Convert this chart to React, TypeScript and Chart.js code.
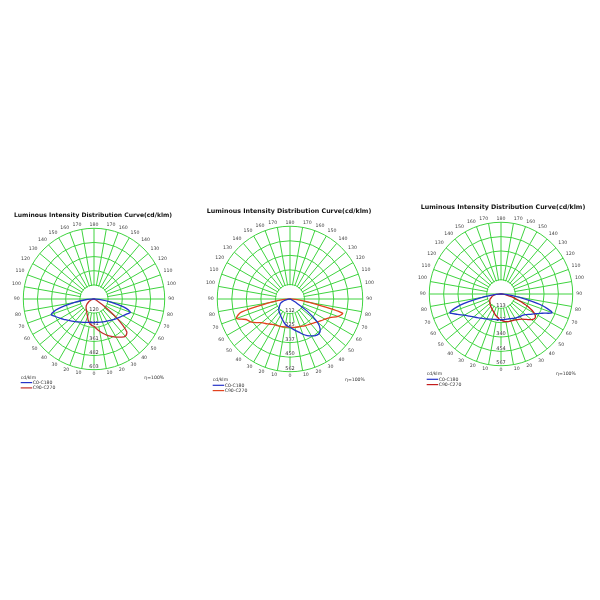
import React, { useEffect, useRef } from 'react';
import { Chart, registerables } from 'chart.js';

Chart.register(...registerables);

// ---------- data ----------
const TITLE = 'Luminous Intensity Distribution Curve(cd/klm)';
const UNIT = 'cd/klm';
const EFFICIENCY = 'η=100%';
const SERIES_NAMES = ['C0-C180', 'C90-C270'];

// angle labels clockwise from the top of the diagram (10° steps)
const ANGLE_LABELS = ['180', '170', '160', '150', '140', '130', '120', '110', '100', '90', '80', '70', '60', '50', '40', '30', '20', '10',
  '0', '10', '20', '30', '40', '50', '60', '70', '80', '90', '100', '110', '120', '130', '140', '150', '160', '170'];

// gamma angles of the sampled intensities (degrees)
const GAMMA = [0, 5, 10, 15, 20, 25, 30, 35, 40, 45, 50, 55, 60, 65, 70, 75, 80, 85, 90,
  95, 100, 105, 110, 115, 120, 125, 130, 135, 140, 145, 150, 155, 160, 165, 170, 175, 180];

// chart 1
const CH1_RINGS = [0, 120.6, 241.2, 361.8, 482.4, 603];
const CH1_RING_LABELS = ['120', '241', '361', '482', '603'];
const CH1_C0 = [200, 200, 202, 205, 208, 212, 217, 225, 234, 245, 257, 270, 286, 305, 330, 260, 140, 55, 5, 0, 0, 0, 0, 0, 0, 0, 0, 0, 0, 0, 0, 0, 0, 0, 0, 0, 0];
const CH1_C180 = [200, 201, 203, 207, 212, 219, 228, 239, 252, 267, 285, 305, 330, 358, 388, 310, 168, 72, 8, 0, 0, 0, 0, 0, 0, 0, 0, 0, 0, 0, 0, 0, 0, 0, 0, 0, 0];
const CH1_C90 = [232, 255, 280, 305, 330, 352, 375, 397, 415, 395, 260, 110, 30, 10, 5, 3, 2, 1, 0, 0, 0, 0, 0, 0, 0, 0, 0, 0, 0, 0, 0, 0, 0, 0, 0, 0, 0];
const CH1_C270 = [232, 226, 212, 190, 160, 140, 125, 113, 105, 95, 84, 70, 55, 42, 31, 22, 13, 6, 0, 0, 0, 0, 0, 0, 0, 0, 0, 0, 0, 0, 0, 0, 0, 0, 0, 0, 0];

// chart 2
const CH2_RINGS = [0, 112.5, 225, 337.5, 450, 562.5];
const CH2_RING_LABELS = ['112', '225', '337', '450', '562'];
const CH2_C0 = [218, 232, 248, 265, 290, 312, 330, 345, 350, 330, 275, 160, 40, 12, 5, 2, 1, 0, 0, 0, 0, 0, 0, 0, 0, 0, 0, 0, 0, 0, 0, 0, 0, 0, 0, 0, 0];
const CH2_C180 = [218, 212, 200, 185, 170, 158, 146, 137, 130, 123, 112, 100, 90, 82, 65, 45, 25, 10, 0, 0, 0, 0, 0, 0, 0, 0, 0, 0, 0, 0, 0, 0, 0, 0, 0, 0, 0];
const CH2_C90 = [218, 220, 222, 224, 227, 232, 237, 243, 250, 262, 276, 293, 312, 340, 395, 420, 160, 55, 5, 0, 0, 0, 0, 0, 0, 0, 0, 0, 0, 0, 0, 0, 0, 0, 0, 0, 0];
const CH2_C270 = [218, 218, 219, 222, 225, 228, 232, 240, 252, 268, 285, 318, 352, 375, 440, 390, 160, 55, 5, 0, 0, 0, 0, 0, 0, 0, 0, 0, 0, 0, 0, 0, 0, 0, 0, 0, 0];

// chart 3
const CH3_RINGS = [0, 113.5, 227, 340.5, 454, 567.5];
const CH3_RING_LABELS = ['113', '227', '340', '454', '567'];
const CH3_C0 = [202, 203, 204, 205, 208, 214, 220, 226, 233, 240, 255, 280, 312, 360, 430, 320, 150, 50, 5, 0, 0, 0, 0, 0, 0, 0, 0, 0, 0, 0, 0, 0, 0, 0, 0, 0, 0];
const CH3_C180 = [202, 203, 205, 208, 212, 220, 228, 238, 250, 265, 282, 305, 335, 380, 430, 330, 150, 50, 5, 0, 0, 0, 0, 0, 0, 0, 0, 0, 0, 0, 0, 0, 0, 0, 0, 0, 0];
const CH3_C90 = [205, 215, 222, 226, 228, 230, 236, 245, 260, 285, 315, 330, 305, 235, 150, 90, 40, 15, 3, 0, 0, 0, 0, 0, 0, 0, 0, 0, 0, 0, 0, 0, 0, 0, 0, 0, 0];
const CH3_C270 = [205, 196, 182, 172, 158, 148, 140, 133, 127, 121, 114, 108, 102, 95, 82, 72, 60, 38, 5, 0, 0, 0, 0, 0, 0, 0, 0, 0, 0, 0, 0, 0, 0, 0, 0, 0, 0];

// ---------- styles / layout ----------
const GREEN = '#3fd33f';
const FONT = '"DejaVu Sans", Verdana, sans-serif';

type Cfg = {
  x: number; y: number; w: number; h: number;
  pad: { left: number; top: number; right: number; bottom: number };
  rings: number[]; ringLabels: string[];
  right: [number[], number[]]; left: [number[], number[]];
  colors: [string, string];
  titleX: number; titleY: number; titleSize: number;
  legX: number; legY: number; etaX: number;
};

const CHARTS: Cfg[] = [
  {
    x: 0, y: 200, w: 195, h: 200, pad: { left: 12, top: 17, right: 19, bottom: 19 },
    rings: CH1_RINGS, ringLabels: CH1_RING_LABELS,
    right: [CH1_C0, CH1_C90], left: [CH1_C180, CH1_C270],
    colors: ['#2433c8', '#c0302c'],
    titleX: 93, titleY: 15.7, titleSize: 6.05, legX: 20.7, legY: 177.3, etaX: 144.3,
  },
  {
    x: 195, y: 200, w: 200, h: 200, pad: { left: 12, top: 15, right: 20, bottom: 17 },
    rings: CH2_RINGS, ringLabels: CH2_RING_LABELS,
    right: [CH2_C0, CH2_C90], left: [CH2_C180, CH2_C270],
    colors: ['#2433c8', '#e2421e'],
    titleX: 94, titleY: 11, titleSize: 6.3, legX: 17.7, legY: 180, etaX: 150,
  },
  {
    x: 400, y: 195, w: 200, h: 200, pad: { left: 19, top: 16, right: 15, bottom: 18 },
    rings: CH3_RINGS, ringLabels: CH3_RING_LABELS,
    right: [CH3_C0, CH3_C90], left: [CH3_C180, CH3_C270],
    colors: ['#2433c8', '#c41c1c'],
    titleX: 103, titleY: 12.7, titleSize: 6.3, legX: 26.7, legY: 179, etaX: 156,
  },
];

// radar labels at 5° steps (odd ones blank)
const RADAR_LABELS = ANGLE_LABELS.flatMap((l) => [l, '']);

// index j clockwise from top: 0..36 right half (gamma 180 -> 0), 37..71 left half (gamma 5 -> 175)
function buildLoop(right: number[], left: number[]) {
  const out: number[] = [];
  for (let j = 0; j < RADAR_LABELS.length; j++) {
    out.push(j <= 36 ? right[GAMMA.length - 1 - j] : left[j - 36]);
  }
  return out;
}

function makePlugin(cfg: Cfg) {
  return {
    id: 'decor',
    beforeDatasetsDraw(chart: any) {
      const s = chart.scales.r;
      const ctx = chart.ctx as CanvasRenderingContext2D;
      const r1 = s.getDistanceFromCenterForValue(cfg.rings[1]);
      ctx.save();
      ctx.fillStyle = '#ffffff';
      ctx.beginPath();
      ctx.arc(s.xCenter, s.yCenter, r1 - 0.8, 0, Math.PI * 2);
      ctx.fill();
      ctx.strokeStyle = GREEN;
      ctx.lineWidth = 1;
      ctx.beginPath();
      ctx.moveTo(s.xCenter - r1, s.yCenter);
      ctx.lineTo(s.xCenter + r1, s.yCenter);
      ctx.stroke();
      ctx.font = `5px ${FONT}`;
      ctx.textAlign = 'center';
      ctx.textBaseline = 'bottom';
      cfg.ringLabels.forEach((lab, i) => {
        const d = s.getDistanceFromCenterForValue(cfg.rings[i + 1]);
        const y = s.yCenter + d - 0.6;
        const w = ctx.measureText(lab).width;
        ctx.fillStyle = '#ffffff';
        ctx.fillRect(s.xCenter - w / 2 - 0.5, y - 5, w + 1, 4.6);
        ctx.fillStyle = '#333333';
        ctx.fillText(lab, s.xCenter, y);
      });
      ctx.restore();
    },
    afterDraw(chart: any) {
      const ctx = chart.ctx as CanvasRenderingContext2D;
      ctx.save();
      ctx.fillStyle = '#111111';
      ctx.font = `bold ${cfg.titleSize}px ${FONT}`;
      ctx.textAlign = 'center';
      ctx.textBaseline = 'middle';
      ctx.fillText(TITLE, cfg.titleX, cfg.titleY);

      ctx.font = `4.6px ${FONT}`;
      ctx.textAlign = 'left';
      ctx.fillStyle = '#333333';
      ctx.fillText(UNIT, cfg.legX, cfg.legY);
      ctx.fillText(EFFICIENCY, cfg.etaX, cfg.legY);
      chart.data.datasets.forEach((ds: any, k: number) => {
        const y = cfg.legY + 5.3 * (k + 1);
        ctx.strokeStyle = ds.borderColor;
        ctx.lineWidth = 1.2;
        ctx.beginPath();
        ctx.moveTo(cfg.legX, y);
        ctx.lineTo(cfg.legX + 11.5, y);
        ctx.stroke();
        ctx.fillStyle = '#333333';
        ctx.fillText(ds.label, cfg.legX + 12, y);
      });
      ctx.restore();
    },
  };
}

function PolarChart({ cfg }: { cfg: Cfg }) {
  const ref = useRef<HTMLCanvasElement>(null);
  useEffect(() => {
    const chart = new Chart(ref.current as HTMLCanvasElement, {
      type: 'radar',
      data: {
        labels: RADAR_LABELS,
        datasets: [0, 1].map((k) => ({
          label: SERIES_NAMES[k],
          data: buildLoop(cfg.right[k], cfg.left[k]),
          borderColor: cfg.colors[k],
          borderWidth: 1.3,
          fill: false,
          tension: 0.3,
          pointRadius: 0,
          pointHoverRadius: 0,
        })),
      },
      options: {
        responsive: false,
        devicePixelRatio: 1,
        animation: false,
        layout: { padding: cfg.pad },
        plugins: { legend: { display: false }, tooltip: { enabled: false }, title: { display: false } },
        scales: {
          r: {
            min: 0,
            max: cfg.rings[cfg.rings.length - 1],
            startAngle: 0,
            afterBuildTicks: (scale: any) => {
              scale.ticks = cfg.rings.map((v) => ({ value: v }));
            },
            ticks: { display: false },
            grid: { circular: true, color: GREEN, lineWidth: 1 },
            angleLines: {
              color: GREEN,
              lineWidth: (c: any) => (c.index % 2 === 0 ? 1 : 0),
            },
            pointLabels: {
              color: '#444444',
              font: { family: FONT, size: 4.7 },
              padding: (c: any) => 1 + 2.5 * Math.abs(Math.sin((c.index * 5 * Math.PI) / 180)),
            },
          } as any,
        },
      } as any,
      plugins: [makePlugin(cfg)],
    });
    return () => chart.destroy();
  }, [cfg]);
  return (
    <canvas
      ref={ref}
      width={cfg.w}
      height={cfg.h}
      style={{ position: 'absolute', left: cfg.x, top: cfg.y, width: cfg.w, height: cfg.h }}
    />
  );
}

export default function App() {
  return (
    <div style={{ position: 'fixed', left: 0, top: 0, width: 600, height: 600, background: '#ffffff' }}>
      {CHARTS.map((c, i) => (
        <PolarChart key={i} cfg={c} />
      ))}
    </div>
  );
}
